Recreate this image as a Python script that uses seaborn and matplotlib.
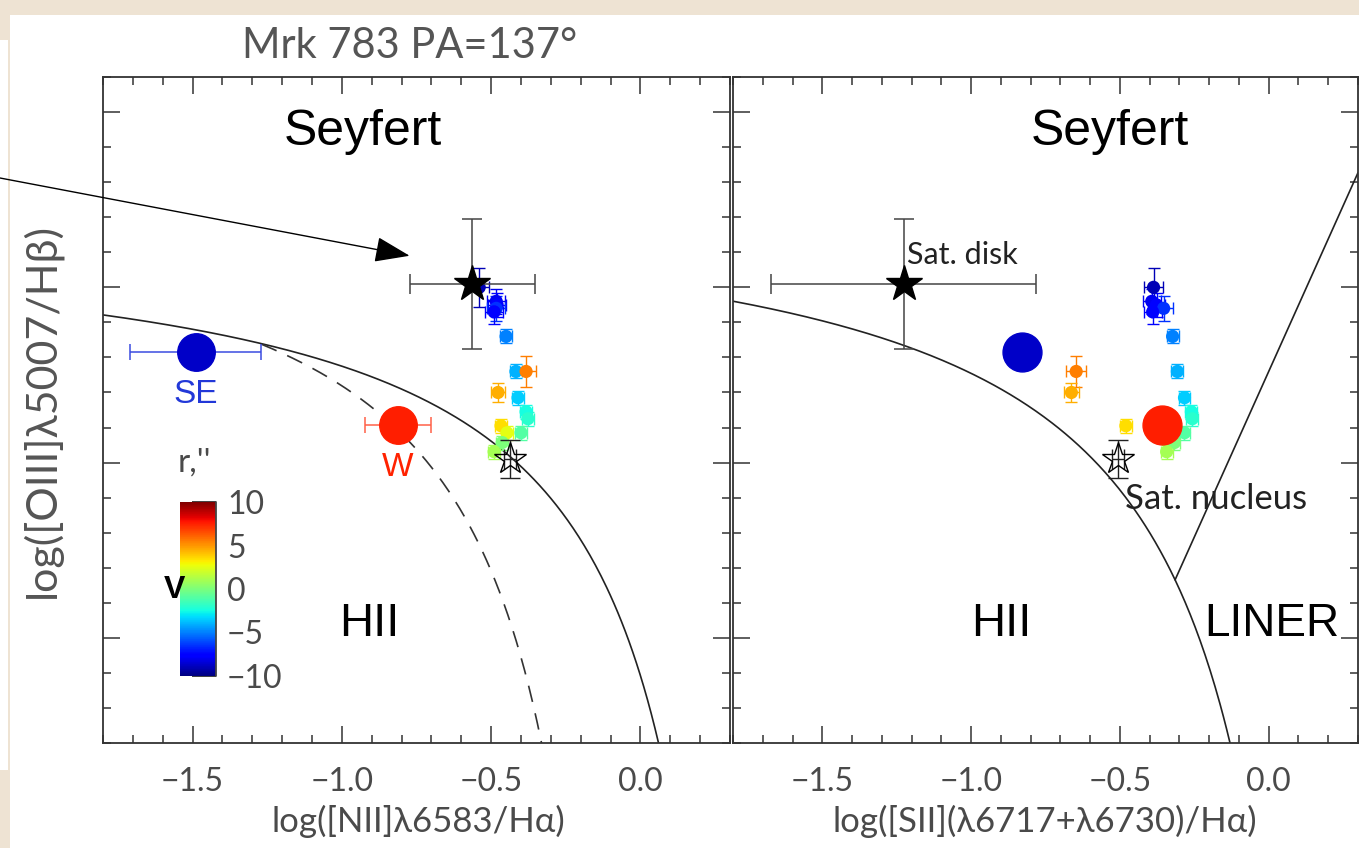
import numpy as np
import pandas as pd
import matplotlib
matplotlib.use("Agg")
import matplotlib.pyplot as plt
import seaborn as sns
from matplotlib.patches import Rectangle
from matplotlib.ticker import MultipleLocator, FuncFormatter
from matplotlib.colors import Normalize
from matplotlib.cm import ScalarMappable

# ---------------- data ----------------
# spaxel points along the slit: velocity (colour), [OIII]/Hb, [NII]/Ha, [SII]/Ha
vel    = [-9.0, -8.0, -7.5, -6.5, -7.5, -5.0, -4.0, 5.5, 4.5, -3.5, -2.5, -2.0, -1.0, 3.5, 2.5, 0.0, 1.0]
y_oiii = [1.00, 0.96, 0.95, 0.94, 0.93, 0.86, 0.76, 0.76, 0.70, 0.685, 0.645, 0.625, 0.585, 0.605, 0.585, 0.557, 0.531]
x_nii  = [-0.54, -0.483, -0.48, -0.483, -0.49, -0.45, -0.417, -0.383, -0.477, -0.41, -0.383, -0.377, -0.40, -0.467, -0.447, -0.463, -0.49]
x_sii  = [-0.387, -0.393, -0.377, -0.353, -0.39, -0.323, -0.307, -0.647, -0.663, -0.283, -0.26, -0.257, -0.283, -0.48, -0.367, -0.317, -0.343]
xerr_p = [0.033, 0.03, 0.03, 0.03, 0.03, 0.02, 0.02, 0.033, 0.025, 0.02, 0.02, 0.02, 0.02, 0.02, 0.02, 0.02, 0.02]
yerr_p = [0.055, 0.035, 0.035, 0.035, 0.035, 0.02, 0.02, 0.045, 0.026, 0.02, 0.02, 0.02, 0.02, 0.02, 0.02, 0.02, 0.02]

# HII regions SE and W
se_nii, se_sii, se_y, se_xerr = -1.49, -0.83, 0.815, 0.218
w_nii, w_sii, w_y, w_xerr = -0.813, -0.36, 0.608, 0.11

# satellite disk (filled star) and nucleus (open star)
disk_nii, disk_sii, disk_y = -0.563, -1.227, 1.009
disk_xerr_nii, disk_xerr_sii, disk_yerr = 0.21, 0.445, 0.185
nuc_nii, nuc_sii, nuc_y = -0.437, -0.505, 0.51
nuc_xerr, nuc_yerr = 0.02, 0.054

cbar_ticks = [-10, -5, 0, 5, 10]

df = pd.DataFrame({"v": vel, "y": y_oiii, "nii": x_nii, "sii": x_sii,
                   "xerr": xerr_p, "yerr": yerr_p})

# ---------------- style ----------------
sns.set_theme(style="white")
plt.rcParams["font.family"] = ["DejaVu Sans"]
thin = ["Lato", "DejaVu Sans"]
sans = ["Liberation Sans", "DejaVu Sans"]
gray = "#4a4a4a"

W, H = 1359, 848
fig = plt.figure(figsize=(W / 100, H / 100), dpi=100)
fig.patch.set_facecolor("#eee3d3")
fig.add_artist(Rectangle((10 / W, 0), 1, (H - 15) / H, transform=fig.transFigure,
                         facecolor="white", edgecolor="none", zorder=-10))
fig.add_artist(Rectangle((0, (H - 770) / H), 8 / W, 730 / H, transform=fig.transFigure,
                         facecolor="white", edgecolor="none", zorder=-10))

axL = fig.add_axes([103 / W, (H - 743) / H, 627 / W, 666 / H])
axR = fig.add_axes([733 / W, (H - 743) / H, 625 / W, 666 / H])

cmap = plt.get_cmap("jet")
norm = Normalize(-10, 10)

fmt = FuncFormatter(lambda v, p: f"{v:.1f}".replace("-", "\u2212"))
for ax in (axL, axR):
    ax.set_facecolor("white")
    ax.set_xlim(-1.8, 0.3)
    ax.set_ylim(-0.3, 1.6)
    ax.xaxis.set_major_locator(MultipleLocator(0.5))
    ax.xaxis.set_minor_locator(MultipleLocator(0.1))
    ax.yaxis.set_major_locator(MultipleLocator(0.5))
    ax.yaxis.set_minor_locator(MultipleLocator(0.1))
    ax.xaxis.set_major_formatter(fmt)
    ax.tick_params(which="both", direction="in", top=True, right=True,
                   bottom=True, left=True, color="#333333", width=1.1,
                   labelleft=False)
    ax.tick_params(which="major", length=12)
    ax.tick_params(which="minor", length=6)
    ax.tick_params(axis="x", which="major", labelsize=23, pad=17, labelcolor=gray)
    for s in ax.spines.values():
        s.set_color("#333333")
        s.set_linewidth(1.3)

# ---------------- demarcation curves ----------------
xk = np.linspace(-1.8, 0.061, 300)
sns.lineplot(x=xk, y=0.61 / (xk - 0.47) + 1.19, ax=axL, color="#222222", lw=1.2,
             sort=False, estimator=None)
xka = np.linspace(-1.27, -0.331, 200)
sns.lineplot(x=xka, y=0.61 / (xka - 0.05) + 1.3, ax=axL, color="#333333", lw=1.2,
             sort=False, estimator=None, linestyle=(0, (10, 7)))

xs = np.linspace(-1.8, -0.13, 300)
sns.lineplot(x=xs, y=0.72 / (xs - 0.32) + 1.30, ax=axR, color="#222222", lw=1.2,
             sort=False, estimator=None)
xg = np.linspace(-0.6, 0.0, 6001)
diff = 0.72 / (xg - 0.32) + 1.30 - (1.89 * xg + 0.76)
x0 = xg[np.argmin(np.abs(diff))]
xl = np.array([x0, 0.3])
sns.lineplot(x=xl, y=1.89 * xl + 0.76, ax=axR, color="#222222", lw=1.2,
             sort=False, estimator=None)

# ---------------- points ----------------
for ax, col in ((axL, "nii"), (axR, "sii")):
    for _, r in df.iterrows():
        c = cmap(norm(r["v"]))
        ax.errorbar(r[col], r["y"], xerr=r["xerr"], yerr=r["yerr"], fmt="none",
                    ecolor=c, elinewidth=1.0, capsize=4, capthick=1.0, zorder=3)
    sns.scatterplot(data=df, x=col, y="y", hue="v", palette=cmap, hue_norm=norm,
                    s=90, edgecolor="none", legend=False, ax=ax, zorder=4)
    ax.set_xlabel("")
    ax.set_ylabel("")

# SE and W
axL.errorbar(se_nii, se_y, xerr=se_xerr, fmt="o", ms=27, color="#0000c8",
             ecolor="#3a4be0", elinewidth=1.1, capsize=6, capthick=1.1, zorder=5)
axL.errorbar(w_nii, w_y, xerr=w_xerr, fmt="o", ms=27, color="#ff1e00",
             ecolor="#ff6048", elinewidth=1.1, capsize=6, capthick=1.1, zorder=5)
axR.plot(se_sii, se_y, "o", ms=28, color="#0000c8", zorder=5)
axR.plot(w_sii, w_y, "o", ms=28, color="#ff1e00", zorder=5)

# satellite disk
axL.errorbar(disk_nii, disk_y, xerr=disk_xerr_nii, yerr=disk_yerr, fmt="*", ms=27,
             color="black", ecolor="#444444", elinewidth=1.1, capsize=7, capthick=1.1, zorder=6)
axR.errorbar(disk_sii, disk_y, xerr=disk_xerr_sii, yerr=disk_yerr, fmt="*", ms=27,
             color="black", ecolor="#444444", elinewidth=1.1, capsize=7, capthick=1.1, zorder=6)
# satellite nucleus
for ax, xx in ((axL, nuc_nii), (axR, nuc_sii)):
    ax.errorbar(xx, nuc_y, xerr=nuc_xerr, yerr=nuc_yerr, fmt="*", ms=24, mfc="none",
                mec="black", mew=1.0, ecolor="#222222", elinewidth=1.0, capsize=7,
                capthick=1.0, zorder=6)

# ---------------- text ----------------
axL.text(-0.93, 1.443, "Seyfert", fontsize=36, family=sans, color="black", ha="center", va="center")
axR.text(-0.533, 1.443, "Seyfert", fontsize=36, family=sans, color="black", ha="center", va="center")
axL.text(-0.907, 0.04, "HII", fontsize=34, family=sans, color="black", ha="center", va="center")
axR.text(-0.9, 0.04, "HII", fontsize=34, family=sans, color="black", ha="center", va="center")
axR.text(0.01, 0.04, "LINER", fontsize=33, family=sans, color="black", ha="center", va="center")
axL.text(se_nii, 0.693, "SE", fontsize=24, family=sans, color="#2238d8", ha="center", va="center")
axL.text(w_nii, 0.486, "W", fontsize=24, family=sans, color="#ff2200", ha="center", va="center")
axR.text(-1.217, 1.091, "Sat. disk", fontsize=22, family=thin, color="#222222",
         ha="left", va="center")
axR.text(-0.483, 0.395, "Sat. nucleus", fontsize=25, family=thin, color="#222222",
         ha="left", va="center")

fig.text(418 / W, 1 - 821 / H, "log([NII]\u03bb6583/H\u03b1)", fontsize=25, family=thin,
         color=gray, ha="center", va="center")
fig.text(1045 / W, 1 - 821 / H, "log([SII](\u03bb6717+\u03bb6730)/H\u03b1)", fontsize=25,
         family=thin, color=gray, ha="center", va="center")
fig.text(42 / W, 1 - 410 / H, "log([OIII]\u03bb5007/H\u03b2)", fontsize=31, family=thin,
         color="#555555", ha="center", va="center", rotation=90)
for ax in (axL, axR):
    for lab in ax.get_xticklabels():
        lab.set_family(thin)

fig.text(410 / W, 1 - 46 / H, "Mrk 783 PA=137\u00b0", fontsize=30, family=thin,
         color="#555555", ha="center", va="center")

# arrow pointing to satellite disk
axL.annotate("", xy=(-0.773, 1.09), xytext=(0, 1 - 178 / H),
             xycoords="data", textcoords="figure fraction", annotation_clip=False,
             arrowprops=dict(arrowstyle="-|>,head_length=1.1,head_width=0.4",
                             mutation_scale=20, color="black", lw=1.0,
                             shrinkA=0, shrinkB=0))

# ---------------- colour bar ----------------
cax = fig.add_axes([180 / W, (H - 676) / H, 36 / W, 174 / H])
cb = fig.colorbar(ScalarMappable(norm=norm, cmap=cmap), cax=cax, ticks=cbar_ticks)
cb.outline.set_visible(False)
cax.axvline(1.0, color="#444444", lw=1.3, clip_on=False)
cax.set_yticklabels([str(t).replace("-", "\u2212") for t in cbar_ticks])
cax.tick_params(direction="in", length=17, width=1.3, color="#333333",
                labelsize=23, pad=8, labelcolor=gray)
for lab in cax.get_yticklabels():
    lab.set_family(thin)
fig.text(174 / W, 1 - 590 / H, "V", fontsize=23, family=sans, weight="bold",
         color="black", ha="center", va="center")
fig.text(194 / W, 1 - 463 / H, "r,''", fontsize=24, family=thin, color=gray,
         ha="center", va="center")

fig.savefig("out.png", dpi=100, facecolor=fig.get_facecolor())
